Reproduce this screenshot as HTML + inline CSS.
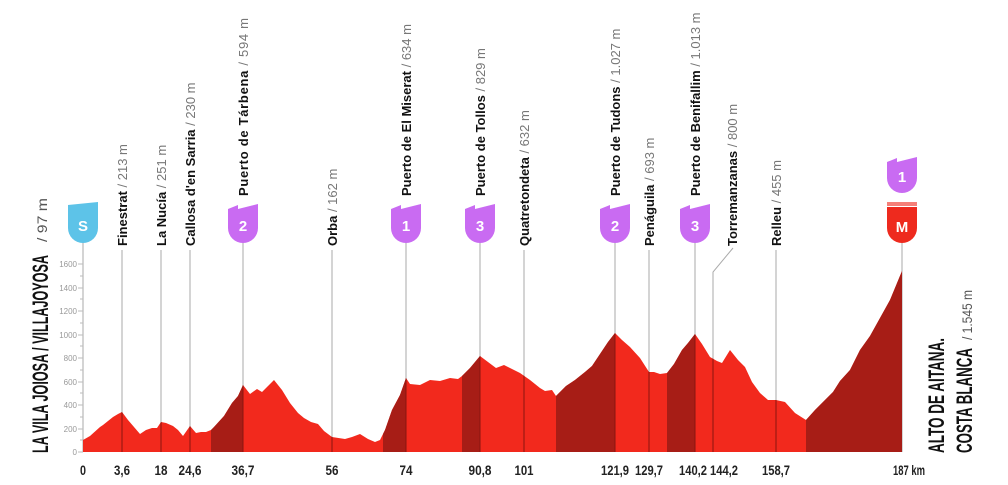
<!DOCTYPE html>
<html><head><meta charset="utf-8"><style>
html,body{margin:0;padding:0;background:#fff;width:1008px;height:485px;overflow:hidden}
svg{display:block}
.lb{font-family:"Liberation Sans",sans-serif;font-size:13px;fill:#111}
.lb tspan.g{fill:#777;font-weight:normal}
.km{font-family:"Liberation Sans",sans-serif;font-size:14px;fill:#222;font-weight:bold}
.yt{font-family:"Liberation Sans",sans-serif;font-size:8px;fill:#999}
.bt{font-family:"Liberation Sans",sans-serif;font-weight:bold;font-size:15px;fill:#fff}
</style></head><body>
<svg width="1008" height="485" viewBox="0 0 1008 485">
<g stroke="#aaa" stroke-width="1">
<line x1="83" y1="240" x2="83" y2="452"/>
<line x1="122" y1="250" x2="122" y2="452"/>
<line x1="161" y1="250" x2="161" y2="452"/>
<line x1="190" y1="250" x2="190" y2="452"/>
<line x1="243" y1="240" x2="243" y2="452"/>
<line x1="332" y1="250" x2="332" y2="452"/>
<line x1="406" y1="240" x2="406" y2="452"/>
<line x1="480" y1="240" x2="480" y2="452"/>
<line x1="524" y1="250" x2="524" y2="452"/>
<line x1="615" y1="240" x2="615" y2="452"/>
<line x1="649" y1="250" x2="649" y2="452"/>
<line x1="695" y1="240" x2="695" y2="452"/>
<polyline points="733,248 713,272 713,452" fill="none"/>
<line x1="776" y1="250" x2="776" y2="452"/>
<line x1="902" y1="240" x2="902" y2="452"/>
</g>
<g stroke="#bbb" stroke-width="1">
<line x1="78" y1="452" x2="83" y2="452"/><line x1="80" y1="440" x2="83" y2="440"/>
<line x1="78" y1="429" x2="83" y2="429"/><line x1="80" y1="417" x2="83" y2="417"/>
<line x1="78" y1="405" x2="83" y2="405"/><line x1="80" y1="393" x2="83" y2="393"/>
<line x1="78" y1="382" x2="83" y2="382"/><line x1="80" y1="370" x2="83" y2="370"/>
<line x1="78" y1="358" x2="83" y2="358"/><line x1="80" y1="346" x2="83" y2="346"/>
<line x1="78" y1="335" x2="83" y2="335"/><line x1="80" y1="323" x2="83" y2="323"/>
<line x1="78" y1="311" x2="83" y2="311"/><line x1="80" y1="299" x2="83" y2="299"/>
<line x1="78" y1="288" x2="83" y2="288"/><line x1="80" y1="276" x2="83" y2="276"/>
<line x1="78" y1="264" x2="83" y2="264"/>
</g>
<g class="yt" text-anchor="end">
<text x="77" y="455">0</text><text x="77" y="432">200</text><text x="77" y="408">400</text>
<text x="77" y="385">600</text><text x="77" y="361">800</text><text x="77" y="338">1000</text>
<text x="77" y="314">1200</text><text x="77" y="291">1400</text><text x="77" y="267">1600</text>
</g>
<defs><clipPath id="pc"><path id="prof" d="M83,452 L83,440 90,436 100,427 103,425 108,421 113,417 118,414 122,412 128,420 140,434 146,430 152,428 157,428 161,422 166,423 173,426 178,430 183,436 190,426 196,433 201,432 206,432 211,430 214,427 224,416 232,403 238,396 243,385 250,394 257,389 262,392 268,386 274,380 282,390 290,403 298,413 304,418 311,422 318,424 324,431 332,437 345,439 352,437 360,434 368,439 375,442 380,440 385,430 392,410 400,395 406,378 410,384 420,385 430,380 440,381 450,378 458,379 462,376 470,368 480,356 488,362 496,368 504,365 512,369 520,373 530,380 540,388 545,391 552,390 556,396 566,386 575,380 580,376 585,372 592,366 600,354 608,342 615,333 622,340 630,347 640,358 649,372 654,372 660,374 667,373 674,364 682,350 688,343 695,334 702,344 710,357 717,361 722,363 730,350 738,360 745,367 752,382 760,393 768,400 776,400 785,402 795,413 806,420 815,410 825,400 833,392 840,381 850,370 860,350 870,336 880,318 890,300 902,271 902,452 Z"/></clipPath></defs>
<use href="#prof" fill="#f2291d"/>
<g clip-path="url(#pc)" fill="#a71d16">
<rect x="211" y="250" width="32" height="210"/>
<rect x="383" y="250" width="23" height="210"/>
<rect x="462" y="250" width="18" height="210"/>
<rect x="556" y="250" width="59" height="210"/>
<rect x="667" y="250" width="28" height="210"/>
<rect x="806" y="250" width="96" height="210"/>
</g>
<g clip-path="url(#pc)" stroke="#8a1510" stroke-width="1">
<line x1="122" y1="400" x2="122" y2="452"/><line x1="161" y1="400" x2="161" y2="452"/>
<line x1="190" y1="400" x2="190" y2="452"/><line x1="243" y1="370" x2="243" y2="452"/>
<line x1="332" y1="400" x2="332" y2="452"/><line x1="406" y1="370" x2="406" y2="452"/>
<line x1="480" y1="350" x2="480" y2="452"/><line x1="524" y1="350" x2="524" y2="452"/>
<line x1="615" y1="330" x2="615" y2="452"/><line x1="649" y1="350" x2="649" y2="452"/>
<line x1="695" y1="330" x2="695" y2="452"/><line x1="713" y1="350" x2="713" y2="452"/>
<line x1="776" y1="390" x2="776" y2="452"/>
</g>
<g>
<path d="M68,205 L98,202 L98,228 A15,15 0 0 1 68,228 Z" fill="#5dc3e8"/>
<text class="bt" x="83" y="231" text-anchor="middle">S</text>
<path d="M228,209 L238,205 L238,209 L258,204 L258,228 A15,15 0 0 1 228,228 Z" fill="#c96bf2"/>
<text class="bt" x="243" y="231" text-anchor="middle">2</text>
<path d="M391,209 L401,205 L401,209 L421,204 L421,228 A15,15 0 0 1 391,228 Z" fill="#c96bf2"/>
<text class="bt" x="406" y="231" text-anchor="middle">1</text>
<path d="M465,209 L475,205 L475,209 L495,204 L495,228 A15,15 0 0 1 465,228 Z" fill="#c96bf2"/>
<text class="bt" x="480" y="231" text-anchor="middle">3</text>
<path d="M600,209 L610,205 L610,209 L630,204 L630,228 A15,15 0 0 1 600,228 Z" fill="#c96bf2"/>
<text class="bt" x="615" y="231" text-anchor="middle">2</text>
<path d="M680,209 L690,205 L690,209 L710,204 L710,228 A15,15 0 0 1 680,228 Z" fill="#c96bf2"/>
<text class="bt" x="695" y="231" text-anchor="middle">3</text>
<path d="M887,162 L897,158 L897,162 L917,157 L917,178 A15,15 0 0 1 887,178 Z" fill="#c96bf2"/>
<text class="bt" x="902" y="182" text-anchor="middle">1</text>
<path d="M887,207 L917,207 L917,228 A15,15 0 0 1 887,228 Z" fill="#ee2a1e"/>
<rect x="887" y="202" width="30" height="4" fill="#ee2a1e" opacity="0.6"/>
<text class="bt" x="902" y="232" text-anchor="middle">M</text>
</g>
<g class="lb" font-weight="bold">
<text transform="translate(127,246) rotate(-90)">Finestrat<tspan class="g"> / 213 m</tspan></text>
<text transform="translate(166,246) rotate(-90)">La Nucía<tspan class="g"> / 251 m</tspan></text>
<text transform="translate(195,246) rotate(-90)">Callosa d'en Sarria<tspan class="g"> / 230 m</tspan></text>
<text transform="translate(248,196) rotate(-90)" textLength="178" lengthAdjust="spacing">Puerto de Tárbena<tspan class="g"> / 594 m</tspan></text>
<text transform="translate(337,246) rotate(-90)">Orba<tspan class="g"> / 162 m</tspan></text>
<text transform="translate(411,196) rotate(-90)">Puerto de El Miserat<tspan class="g"> / 634 m</tspan></text>
<text transform="translate(485,196) rotate(-90)">Puerto de Tollos<tspan class="g"> / 829 m</tspan></text>
<text transform="translate(529,246) rotate(-90)">Quatretondeta<tspan class="g"> / 632 m</tspan></text>
<text transform="translate(620,196) rotate(-90)">Puerto de Tudons<tspan class="g"> / 1.027 m</tspan></text>
<text transform="translate(654,246) rotate(-90)">Penáguila<tspan class="g"> / 693 m</tspan></text>
<text transform="translate(700,196) rotate(-90)">Puerto de Benifallim<tspan class="g"> / 1.013 m</tspan></text>
<text transform="translate(737,246) rotate(-90)">Torremanzanas<tspan class="g"> / 800 m</tspan></text>
<text transform="translate(781,246) rotate(-90)">Relleu<tspan class="g"> / 455 m</tspan></text>
</g>
<g class="km" text-anchor="middle">
<text x="83" y="475" textLength="6" lengthAdjust="spacingAndGlyphs">0</text>
<text x="122" y="475" textLength="16" lengthAdjust="spacingAndGlyphs">3,6</text>
<text x="161" y="475" textLength="13" lengthAdjust="spacingAndGlyphs">18</text>
<text x="190" y="475" textLength="23" lengthAdjust="spacingAndGlyphs">24,6</text>
<text x="243" y="475" textLength="23" lengthAdjust="spacingAndGlyphs">36,7</text>
<text x="332" y="475" textLength="13" lengthAdjust="spacingAndGlyphs">56</text>
<text x="406" y="475" textLength="13" lengthAdjust="spacingAndGlyphs">74</text>
<text x="480" y="475" textLength="23" lengthAdjust="spacingAndGlyphs">90,8</text>
<text x="524" y="475" textLength="19" lengthAdjust="spacingAndGlyphs">101</text>
<text x="615" y="475" textLength="28" lengthAdjust="spacingAndGlyphs">121,9</text>
<text x="649" y="475" textLength="28" lengthAdjust="spacingAndGlyphs">129,7</text>
<text x="693" y="475" textLength="28" lengthAdjust="spacingAndGlyphs">140,2</text>
<text x="724" y="475" textLength="28" lengthAdjust="spacingAndGlyphs">144,2</text>
<text x="776" y="475" textLength="28" lengthAdjust="spacingAndGlyphs">158,7</text>
<text x="909" y="475" textLength="32" lengthAdjust="spacingAndGlyphs">187 km</text>
</g>
<text transform="translate(48,453) rotate(-90)" font-family="'Liberation Sans',sans-serif" font-weight="bold" font-size="22" fill="#111" textLength="198" lengthAdjust="spacingAndGlyphs">LA VILA JOIOSA / VILLAJOYOSA</text>
<text transform="translate(47,242) rotate(-90)" font-family="'Liberation Sans',sans-serif" font-size="14" fill="#555" textLength="44" lengthAdjust="spacingAndGlyphs">/ 97 m</text>
<text transform="translate(944,453) rotate(-90)" font-family="'Liberation Sans',sans-serif" font-weight="bold" font-size="22" fill="#111" textLength="115" lengthAdjust="spacingAndGlyphs">ALTO DE AITANA.</text>
<text transform="translate(972,453) rotate(-90)" font-family="'Liberation Sans',sans-serif" font-weight="bold" font-size="22" fill="#111" textLength="105" lengthAdjust="spacingAndGlyphs">COSTA BLANCA</text>
<text transform="translate(972,340) rotate(-90)" font-family="'Liberation Sans',sans-serif" font-size="14" fill="#555" textLength="50" lengthAdjust="spacingAndGlyphs">/ 1.545 m</text>
</svg>
</body></html>
